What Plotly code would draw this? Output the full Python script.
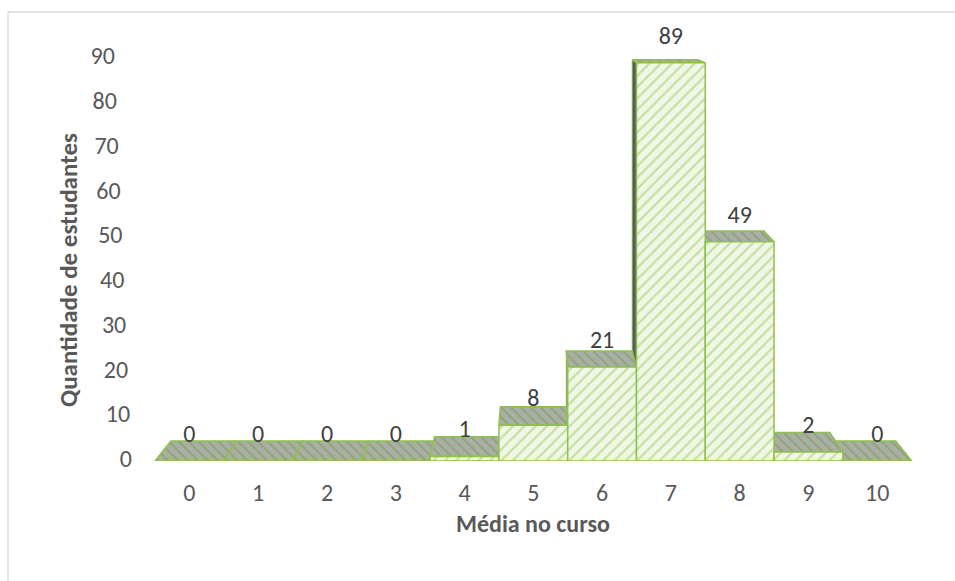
import plotly.graph_objects as go

# Distribution of students by course average
notas = list(range(11))
estudantes = [0, 0, 0, 0, 1, 8, 21, 89, 49, 2, 0]
y_ticks = [0, 10, 20, 30, 40, 50, 60, 70, 80, 90]

x_title = "Média no curso"
y_title = "Quantidade de estudantes"

# colours
FRONT_BG = "#f0f7e7"
FRONT_HATCH = "#9cc95e"
EDGE = "#8fc04f"
TOP_BG = "#abaea6"
TOP_HATCH = "#729d48"
SIDE = "#5c5f59"
TEXT = "#595959"
LABEL = "#404040"
FONT = "Calibri, Carlito, Lato, sans-serif"

# simple perspective: the back plane of each column is the front plane
# shrunk toward the eye point
EYE_X, EYE_Y = 5.0, 106.0
SCALE = 0.958
HALF = 0.5


def back(x, y):
    return EYE_X + SCALE * (x - EYE_X), EYE_Y + SCALE * (y - EYE_Y)


def poly(pts, bg, hatch, shape, width=1.5, size=8, solidity=0.25):
    xs = [p[0] for p in pts] + [pts[0][0]]
    ys = [p[1] for p in pts] + [pts[0][1]]
    kw = dict(
        x=xs, y=ys, mode="lines", fill="toself",
        line=dict(color=EDGE, width=width),
        fillcolor=bg, hoverinfo="skip", showlegend=False,
    )
    if shape:
        kw["fillpattern"] = dict(shape=shape, fgcolor=hatch, bgcolor=bg,
                                 size=size, solidity=solidity)
    return go.Scatter(**kw)


fig = go.Figure()

# side and top faces, farthest columns from the eye first
order = sorted(range(len(notas)), key=lambda i: -abs(notas[i] - EYE_X))
for i in order:
    c, v = notas[i], estudantes[i]
    xl, xr = c - HALF, c + HALF
    # side face facing the eye
    if v > 0:
        if xl > EYE_X:
            sx = xl
        elif xr < EYE_X:
            sx = xr
        else:
            sx = None
        if sx is not None:
            pts = [(sx, 0), (sx, v), back(sx, v), back(sx, 0)]
            fig.add_trace(poly(pts, SIDE, None, None, width=0.8))
    # top face
    pts = [(xl, v), (xr, v), back(xr, v), back(xl, v)]
    fig.add_trace(poly(pts, TOP_BG, TOP_HATCH, "\\", size=7, solidity=0.3))

# front faces
for c, v in zip(notas, estudantes):
    if v > 0:
        pts = [(c - HALF, 0), (c + HALF, 0), (c + HALF, v), (c - HALF, v)]
        fig.add_trace(poly(pts, FRONT_BG, FRONT_HATCH, "/", size=8, solidity=0.28))

# value labels above each column
fig.add_trace(go.Scatter(
    x=notas, y=[v + 5.6 for v in estudantes],
    mode="text", text=[str(v) for v in estudantes],
    textposition="middle center",
    textfont=dict(family=FONT, size=24, color=LABEL),
    hoverinfo="skip", showlegend=False, cliponaxis=False,
))

# value axis labels, following the slanted axis edge
fig.add_trace(go.Scatter(
    x=[-0.835 - 0.00276 * t for t in y_ticks], y=y_ticks,
    mode="text", text=[str(t) for t in y_ticks],
    textposition="middle left",
    textfont=dict(family=FONT, size=24, color=TEXT),
    hoverinfo="skip", showlegend=False, cliponaxis=False,
))

fig.update_layout(
    width=955, height=581,
    margin=dict(l=100, r=9, t=36, b=120),
    paper_bgcolor="white", plot_bgcolor="white",
    showlegend=False,
    xaxis=dict(
        range=[-1.3, 11.0], tickvals=notas, ticktext=[str(n) for n in notas],
        ticks="outside", ticklen=10, tickcolor="rgba(0,0,0,0)",
        showgrid=False, zeroline=False, showline=False,
        tickfont=dict(family=FONT, size=24, color=TEXT),
    ),
    yaxis=dict(
        range=[0, 95], showticklabels=False, showgrid=False,
        zeroline=False, showline=False,
    ),
    annotations=[
        dict(text=f"<b>{x_title}</b>", xref="x", yref="paper",
             x=5, y=(461 - 523) / 425, xanchor="center", yanchor="middle",
             showarrow=False, font=dict(family=FONT, size=24, color=TEXT)),
        dict(text=f"<b>{y_title}</b>", xref="paper", yref="paper",
             x=(68 - 100) / 846, y=(461 - 270) / 425, textangle=-90,
             xanchor="center", yanchor="middle",
             showarrow=False, font=dict(family=FONT, size=25, color=TEXT)),
    ],
    shapes=[
        dict(type="rect", xref="paper", yref="paper",
             x0=(8 - 100) / 846, x1=1.05, y0=-0.6, y1=(461 - 12) / 425,
             line=dict(color="#d9d9d9", width=1.3), fillcolor="rgba(0,0,0,0)",
             layer="below"),
    ],
)

fig.write_html("out.html")
